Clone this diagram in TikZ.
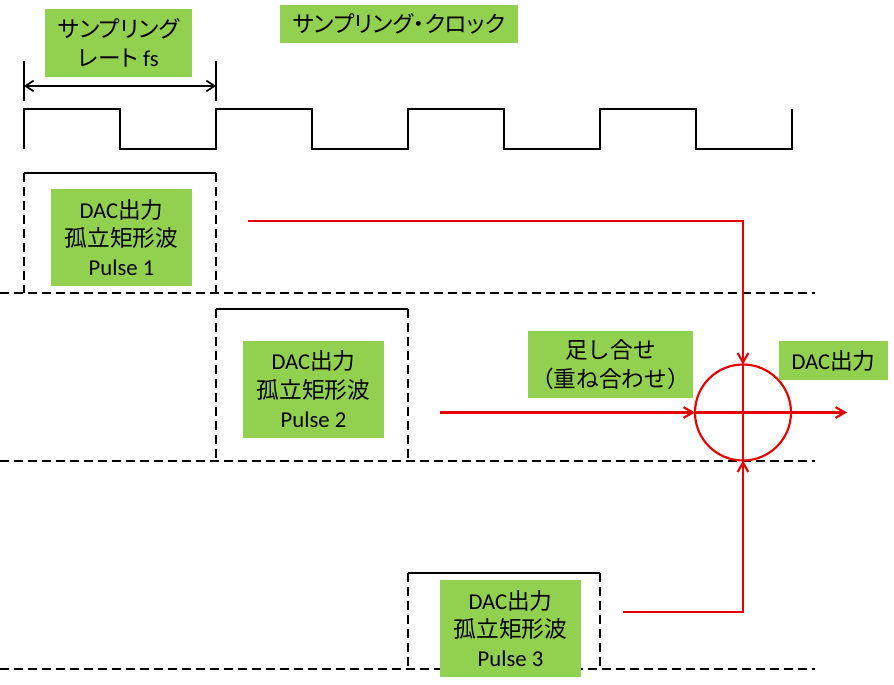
\documentclass[tikz,border=0pt]{standalone}
\usepackage{fontspec}
\setmainfont{Carlito}
\newfontfamily\jp{Noto Sans CJK JP}
\newfontfamily\jpp[RawFeature=+palt]{Noto Sans CJK JP}
\usetikzlibrary{arrows.meta}
\newlength\pxu
\setlength\pxu{0.75pt}
\definecolor{labelgreen}{RGB}{146,208,80}
\definecolor{sumred}{RGB}{232,0,0}
\begin{document}
\begin{tikzpicture}[x=0.75pt,y=-0.75pt,
  lbl/.style={fill=labelgreen, inner sep=0pt, align=center, text=black,
    font=\fontsize{17}{21.5}\selectfont},
  sig/.style={line width=1.6pt, black},
  guide/.style={line width=1.5pt, black, dash pattern=on 6.5pt off 4pt},
  flow/.style={line width=1.6pt, draw=sumred,
    -{Straight Barb[length=7pt,width=8pt]}},
  dim/.style={line width=1.3pt, black,
    {Straight Barb[length=6pt,width=8pt]}-{Straight Barb[length=6pt,width=8pt]}},
]
\useasboundingbox (0,0) rectangle (894,685);

% sampling clock
\draw[sig] (24,149) -- (24,109) -- (120,109) -- (120,149) -- (216,149)
  -- (216,109) -- (312,109) -- (312,149) -- (408,149)
  -- (408,109) -- (504,109) -- (504,149) -- (600,149)
  -- (600,109) -- (696,109) -- (696,149) -- (792,149) -- (792,109);

% period dimension
\coordinate (tA) at (24,61);
\coordinate (tAb) at (24,101);
\coordinate (tB) at (216,61);
\coordinate (tBb) at (216,101);
\draw[sig, line width=1.3pt] (tA) -- (tAb);
\draw[sig, line width=1.3pt] (tB) -- (tBb);
\coordinate (dA) at (24,86);
\coordinate (dB) at (216,86);
\draw[dim] (dA) -- (dB);

% baselines
\draw[guide] (0,293) -- (815,293);
\draw[guide] (0,461) -- (815,461);
\draw[guide] (0,669) -- (815,669);

% pulse 1
\draw[sig] (24,173) -- (216,173);
\draw[guide] (24,173) -- (24,293);
\draw[guide] (216,173) -- (216,293);
% pulse 2
\draw[sig] (216,309) -- (408,309);
\draw[guide] (216,309) -- (216,461);
\draw[guide] (408,309) -- (408,461);
% pulse 3
\draw[sig] (408,573) -- (600,573);
\draw[guide] (408,573) -- (408,669);
\draw[guide] (600,573) -- (600,669);

% labels
\node[lbl, minimum width=147\pxu, minimum height=68\pxu] (rate) at (118.5,43)
  {{\jpp サンプリング}\\{\jpp レート} fs};
\node[lbl, minimum width=238\pxu, minimum height=38\pxu] (clk) at (399,24)
  {\jpp サンプリング・クロック};
\node[lbl, minimum width=141\pxu, minimum height=97\pxu] (p1) at (121.5,237.5)
  {DAC{\jp 出力}\\{\jp 孤立矩形波}\\Pulse 1};
\node[lbl, minimum width=141\pxu, minimum height=97\pxu] (p2) at (313.5,389)
  {DAC{\jp 出力}\\{\jp 孤立矩形波}\\Pulse 2};
\node[lbl, minimum width=141\pxu, minimum height=97\pxu] (p3) at (510.5,628.5)
  {DAC{\jp 出力}\\{\jp 孤立矩形波}\\Pulse 3};
\node[lbl, minimum width=165\pxu, minimum height=67\pxu] (addlbl) at (610.5,364.5)
  {{\jp 足し合せ}\\{\jp （重ね合わせ）}};
\node[lbl, minimum width=109\pxu, minimum height=39\pxu] (outlbl) at (833.5,360.5)
  {DAC{\jp 出力}};

% summing junction
\node[circle, draw=sumred, line width=1.6pt, minimum size=96\pxu,
  inner sep=0pt, outer sep=0pt] (sum) at (743,412.5) {};
\draw[sumred, line width=1.6pt] (sum.north) -- (sum.south);
\draw[sumred, line width=1.6pt] (sum.west) -- (sum.east);

\coordinate (p1o) at (248,221);
\coordinate (p2o) at (440,412.5);
\coordinate (p3o) at (623,612);
\coordinate (out) at (847,412.5);
\draw[flow] (p1o) -| (sum.north);
\draw[flow] (p2o) -- (sum.west);
\draw[flow] (p3o) -| (sum.south);
\draw[flow] (sum.east) -- (out);
\end{tikzpicture}
\end{document}
